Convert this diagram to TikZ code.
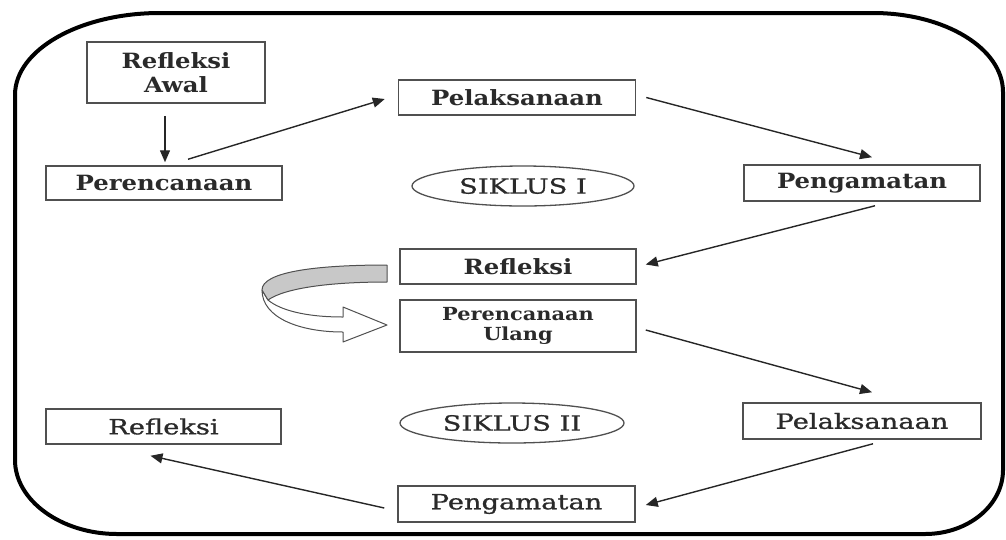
\documentclass[tikz,border=0pt]{standalone}
\usepackage{fontspec}
\usepackage{graphicx}
\usetikzlibrary{arrows.meta,calc,shapes.geometric}
\newfontfamily\upf{DejaVu Serif}
\newfontfamily\lof[FakeBold=0.8]{DejaVu Serif}
\newcommand\wu[1]{\scalebox{1.16}[1]{#1}}
\newcommand\wl[1]{\scalebox{1.3}[1]{#1}}
\definecolor{boxc}{HTML}{505050}
\definecolor{txt}{HTML}{2A2A2A}
\definecolor{ribbon}{HTML}{C8C8C8}
\tikzset{
  frm/.style={draw=black, line width=4pt},
  bx/.style={draw=boxc, line width=1.5pt, inner sep=0pt, text=txt, align=center},
  up/.style={font=\upf\bfseries\fontsize{21}{26}\selectfont},
  upu/.style={font=\upf\bfseries\fontsize{18}{20}\selectfont},
  lo/.style={font=\lof\fontsize{21}{23}\selectfont},
  ell/.style={ellipse, draw=boxc, line width=1.3pt, inner sep=0pt, text=txt},
  arr/.style={-{Triangle[length=12pt,width=10pt]}, line width=1.4pt, draw=black!85},
  rib/.style={draw=boxc, line width=1pt, line join=round},
}
\begin{document}
\begin{tikzpicture}[x=1pt,y=-1pt]
\useasboundingbox (0,0) rectangle (1006,539);
% outer frame
\draw[frm] (15,95) -- (15,460)
  .. controls (15,500.8) and (61.7,534) .. (117,534) -- (925,534)
  .. controls (968.1,534) and (1003,505.3) .. (1003,470) -- (1003,92)
  .. controls (1003,48.4) and (944.8,13) .. (873,13) -- (160,13)
  .. controls (80,13) and (15,49.7) .. (15,95) -- cycle;

% cycle I
\node[bx,up,minimum width=178pt,minimum height=61pt] (rA) at (176,72.5) {\wu{Refleksi}\\[-2pt]\wu{Awal}};
\node[bx,up,minimum width=236pt,minimum height=34pt] (p1) at (164,183) {\wu{Perencanaan}};
\node[bx,up,minimum width=237pt,minimum height=35pt] (l1) at (517,97.5) {\wu{Pelaksanaan}};
\node[bx,up,minimum width=236pt,minimum height=36pt] (g1) at (862,183) {\wu{Pengamatan}};
\node[ell,lo,minimum width=222pt,minimum height=40pt] (s1) at (523,186) {\wl{SIKLUS I}};
\node[bx,up,minimum width=236pt,minimum height=35pt] (r1) at (518,266.5) {\wu{Refleksi}};
\node[bx,upu,minimum width=236pt,minimum height=52pt] (pu) at (518,326) {\wu{Perencanaan}\\\wu{Ulang}};

% cycle II
\node[bx,lo,minimum width=238pt,minimum height=36pt] (l2) at (862,421) {\wl{Pelaksanaan}};
\node[ell,lo,minimum width=224pt,minimum height=40pt] (s2) at (512,423) {\wl{SIKLUS II}};
\node[bx,lo,minimum width=235pt,minimum height=35pt] (r2) at (163.5,426.5) {\wl{Refleksi}};
\node[bx,lo,minimum width=237pt,minimum height=36pt] (g2) at (516.5,504) {\wl{Pengamatan}};

% connectors
\draw[arr] ($(rA.south)+(-11,12)$) -- ($(p1.north)+(1,-3)$);
\draw[arr] ($(p1.north)+(24,-6)$) -- ($(l1.west)+(-13,1.5)$);
\draw[arr] ($(l1.east)+(10,0)$) -- ($(g1.north)+(10,-7)$);
\draw[arr] ($(g1.south)+(13,4)$) -- ($(r1.east)+(9,-2)$);
\draw[arr] ($(pu.east)+(9,4)$) -- ($(l2.north)+(10,-10)$);
\draw[arr] ($(l2.south)+(11,4)$) -- ($(g2.east)+(10,1)$);
\draw[arr] ($(g2.west)+(-13,4)$) -- ($(r2.south)+(-13,11)$);

% curved block arrow from Refleksi to Perencanaan Ulang
\filldraw[rib, fill=white] (262,290)
  .. controls (262,318) and (300,332) .. (343,332) -- (343,342) -- (387,325)
  -- (343,307) -- (343,317) .. controls (305,317) and (280,310) .. (268,300) -- cycle;
\filldraw[rib, fill=ribbon] (387,265)
  .. controls (315,265) and (262,272) .. (262,290) -- (268,300)
  .. controls (285,288) and (330,282) .. (387,282) -- cycle;
\end{tikzpicture}
\end{document}
